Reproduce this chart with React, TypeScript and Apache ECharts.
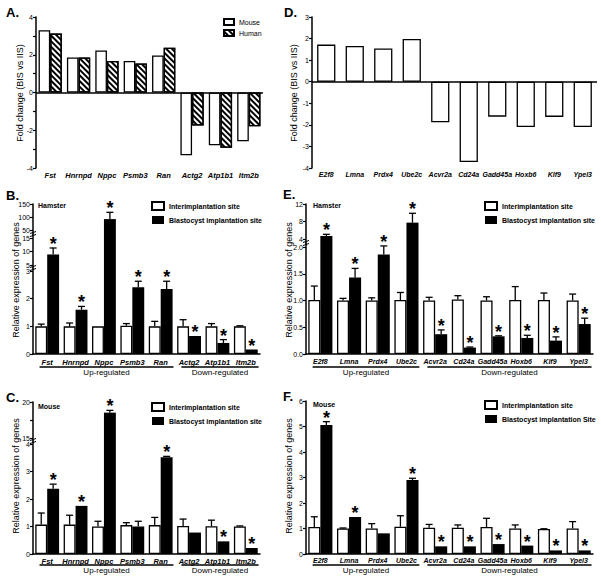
import React, { useEffect, useRef } from 'react';
import * as echarts from 'echarts';

// ---------- data ----------
const genesBC = ['Fst', 'Hnrnpd', 'Nppc', 'Psmb3', 'Ran', 'Actg2', 'Atp1b1', 'Itm2b'];
const genesEF = ['E2f8', 'Lmna', 'Prdx4', 'Ube2c', 'Acvr2a', 'Cd24a', 'Gadd45a', 'Hoxb6', 'Klf9', 'Ypel3'];
const groupNames = ['Up-regulated', 'Down-regulated'];
const groupStartBC = [0, 5];
const groupEndBC = [4, 7];
const groupStartEF = [0, 4];
const groupEndEF = [3, 9];

// A: fold change (BIS vs IIS)
const aMouse = [3.3, 1.86, 2.23, 1.67, 1.96, -3.33, -2.8, -2.58];
const aHuman = [3.12, 1.86, 1.67, 1.54, 2.37, -1.75, -2.93, -1.79];
// D: fold change (BIS vs IIS)
const dFold = [1.72, 1.66, 1.54, 1.98, -1.88, -3.72, -1.62, -2.1, -1.63, -2.1];

// B: hamster
const bIIS = [1.0, 1.0, 1.0, 1.02, 1.0, 1.0, 1.0, 1.0];
const bIISErr = [0.08, 0.12, 0, 0.08, 0.18, 0.24, 0.1, 0.02];
const bBIS = [8.9, 1.6, 92, 2.41, 2.35, 0.65, 0.4, 0.16];
const bBISErr = [2.4, 0.12, 26, 0.22, 0.28, 0, 0.12, 0];
const bSig = [1, 1, 1, 1, 1, 1, 1, 1];

// C: mouse
const cIIS = [1.07, 1.07, 1.0, 1.05, 1.05, 1.02, 1.01, 1.0];
const cIISErr = [0.42, 0.34, 0.19, 0.09, 0.28, 0.25, 0.22, 0.02];
const cBIS = [2.37, 1.75, 18.52, 1.0, 3.52, 0.78, 0.46, 0.22];
const cBISErr = [0.17, 0, 0.32, 0.19, 0.03, 0, 0, 0];
const cSig = [1, 1, 1, 0, 1, 0, 1, 1];

// E: hamster
const eIIS = [1.01, 1.0, 1.0, 1.01, 1.0, 1.02, 1.0, 1.01, 1.01, 1.0];
const eIISErr = [0.26, 0.04, 0.05, 0.14, 0.06, 0.07, 0.07, 0.25, 0.13, 0.12];
const eBIS = [4.69, 1.43, 1.86, 7.74, 0.37, 0.12, 0.33, 0.3, 0.25, 0.56];
const eBISErr = [0.38, 0.17, 0.16, 2.14, 0.08, 0.01, 0.01, 0.05, 0.07, 0.11];
const eSig = [1, 1, 1, 1, 1, 1, 1, 1, 1, 1];

// F: mouse
const fIIS = [1.06, 1.0, 1.0, 1.07, 1.03, 1.03, 1.06, 1.0, 0.98, 1.0];
const fIISErr = [0.4, 0.02, 0.19, 0.43, 0.13, 0.11, 0.34, 0.14, 0.01, 0.27];
const fBIS = [5.06, 1.45, 0.81, 2.9, 0.3, 0.3, 0.39, 0.33, 0.14, 0.14];
const fBISErr = [0.13, 0, 0, 0.07, 0, 0, 0, 0, 0, 0];
const fSig = [1, 1, 0, 1, 1, 1, 1, 1, 1, 1];

// ---------- style ----------
const FONT = '"Liberation Sans", Arial, Helvetica, sans-serif';
const INK = '#000';
const axisLine = { show: true, onZero: false, lineStyle: { color: INK, width: 1.5 } };
const tickLabel = { fontSize: 7, color: INK, fontFamily: FONT, margin: 3 };
const hatch = {
  symbol: 'rect',
  symbolSize: 1,
  dashArrayX: [1, 0],
  dashArrayY: [1.2, 1.8],
  rotation: Math.PI / 4,
  color: INK,
};

function catLabel(margin: number, size: number) {
  return {
    fontSize: size,
    fontStyle: 'italic',
    fontWeight: 'bold',
    color: INK,
    fontFamily: FONT,
    margin,
    interval: 0,
  };
}

type Ctx = { grid: any[]; xAxis: any[]; yAxis: any[]; series: any[]; legend: any[]; graphic: any[] };

function addFoldPanel(ctx: Ctx, p: any) {
  const gi = ctx.grid.length;
  ctx.grid.push({ left: p.left, top: p.top, width: p.width, height: p.height });
  ctx.xAxis.push({
    gridIndex: gi, type: 'category', data: p.cats,
    axisLine: { show: false }, axisTick: { show: false }, axisLabel: catLabel(3, p.catSize),
  });
  ctx.yAxis.push({
    gridIndex: gi, type: 'value', min: p.min, max: p.max,
    axisLine,
    axisTick: { show: true, customValues: p.ticks, length: 3, lineStyle: { color: INK, width: 1.2 } },
    axisLabel: { ...tickLabel, customValues: p.labels },
    splitLine: { show: false },
  });
  p.bars.forEach((s: any, k: number) => {
    ctx.series.push({
      type: 'bar', name: s.name, xAxisIndex: gi, yAxisIndex: gi, data: s.data,
      barGap: '0%', barCategoryGap: p.gap,
      itemStyle: { color: '#fff', borderColor: INK, borderWidth: 1.3, ...(s.hatch ? { decal: hatch } : {}) },
      ...(k === 0
        ? {
            markLine: {
              silent: true, symbol: 'none', label: { show: false },
              lineStyle: { color: INK, width: 1.5, type: 'solid' },
              data: [{ yAxis: 0 }],
            },
          }
        : {}),
    });
  });
}

function addExprPanel(ctx: Ctx, p: any) {
  const segs = p.segs;
  const n = segs.length;
  const gapFrac = parseFloat(p.gap) / 100;
  segs.forEach((s: any, i: number) => {
    const scale = (s.yLo - s.yHi) / (s.hi - s.lo);
    const bottom = i === 0 ? s.yLo : Math.round((s.yLo + segs[i - 1].yHi) / 2);
    const top = i === n - 1 ? s.yHi : Math.round((s.yHi + segs[i + 1].yLo) / 2);
    const min = s.lo - (bottom - s.yLo) / scale;
    const max = s.hi + (s.yHi - top) / scale;
    const gi = ctx.grid.length;
    ctx.grid.push({ left: p.left, width: p.width, top, height: bottom - top });
    ctx.xAxis.push({
      gridIndex: gi, type: 'category', data: p.cats, show: i === 0,
      axisLine, axisTick: { show: false }, axisLabel: catLabel(p.labelMargin, p.catSize),
    });
    ctx.yAxis.push({
      gridIndex: gi, type: 'value', min, max,
      axisLine,
      axisTick: { show: true, customValues: s.ticks, length: 3, lineStyle: { color: INK, width: 1.2 } },
      axisLabel: { ...tickLabel, customValues: s.labels, formatter: s.fmt || ((v: number) => String(v)) },
      splitLine: { show: false },
    });
    ctx.series.push({
      type: 'bar', name: p.names[0], xAxisIndex: gi, yAxisIndex: gi, data: p.iis,
      barGap: '0%', barCategoryGap: p.gap, clip: true,
      itemStyle: { color: '#fff', borderColor: INK, borderWidth: 1.3 },
    });
    ctx.series.push({
      type: 'bar', name: p.names[1], xAxisIndex: gi, yAxisIndex: gi, data: p.bis,
      barGap: '0%', barCategoryGap: p.gap, clip: true,
      itemStyle: { color: INK },
    });
    const errData: number[][] = [];
    p.cats.forEach((_: string, k: number) => {
      errData.push([k, p.iis[k], p.iis[k] + p.iisErr[k], 0, 0]);
      errData.push([k, p.bis[k], p.bis[k] + p.bisErr[k], p.sig[k], 1]);
    });
    ctx.series.push({
      type: 'custom', name: 'err' + gi, xAxisIndex: gi, yAxisIndex: gi, data: errData,
      encode: { x: 0, y: 1 }, silent: true, z: 5,
      renderItem: (params: any, api: any) => {
        const k = api.value(0), v = api.value(1), topV = api.value(2), sig = api.value(3), side = api.value(4);
        const cw = api.size([1, 0])[0];
        const bw = (cw * (1 - gapFrac)) / 2;
        const cx = api.coord([k, 0])[0] + (side ? bw / 2 : -bw / 2);
        const inSeg = (x: number) => x >= min && x <= max;
        const children: any[] = [];
        let tipY: number | null = null;
        if (topV > v) {
          if (inSeg(topV)) {
            const y1 = api.coord([k, Math.max(v, min)])[1];
            const y2 = api.coord([k, topV])[1];
            const capW = 7;
            children.push({ type: 'line', shape: { x1: cx, y1, x2: cx, y2 }, style: { stroke: INK, lineWidth: 1.3 } });
            children.push({ type: 'line', shape: { x1: cx - capW / 2, y1: y2, x2: cx + capW / 2, y2: y2 }, style: { stroke: INK, lineWidth: 1.3 } });
            tipY = y2;
          }
        } else if (inSeg(v)) {
          tipY = api.coord([k, v])[1];
        }
        if (sig && tipY !== null) {
          children.push({
            type: 'text', x: cx, y: tipY - 4,
            style: {
              text: '*', fill: INK, font: `bold 18px ${FONT}`, lineHeight: 6,
              align: 'center', verticalAlign: 'middle',
            },
          });
        }
        return { type: 'group', children };
      },
    });
    if (i === 0) {
      const gData = p.gStart.map((st: number, g: number) => [st, p.gEnd[g], g]);
      ctx.series.push({
        type: 'custom', name: 'grp' + gi, xAxisIndex: gi, yAxisIndex: gi, data: gData,
        encode: { x: 0, y: 1 }, silent: true,
        renderItem: (params: any, api: any) => {
          const st = api.value(0), en = api.value(1), g = api.value(2);
          const cw = api.size([1, 0])[0];
          const x1 = api.coord([st, 0])[0] - 0.27 * cw;
          const x2 = api.coord([en, 0])[0] + 0.45 * cw;
          const yA = params.coordSys.y + params.coordSys.height;
          return {
            type: 'group',
            children: [
              { type: 'line', shape: { x1, y1: yA + p.lineOff, x2, y2: yA + p.lineOff }, style: { stroke: INK, lineWidth: 1.3 } },
              {
                type: 'text', x: (x1 + x2) / 2, y: yA + p.textOff,
                style: { text: groupNames[g], fill: INK, font: `8px ${FONT}`, align: 'center', verticalAlign: 'middle' },
              },
            ],
          };
        },
      });
    }
    // axis-break mark at the boundary below this segment
    if (i > 0) {
      const x = p.left;
      const y = bottom;
      ctx.graphic.push({
        type: 'group', silent: true, z: 100,
        children: [
          { type: 'rect', shape: { x: x - 2, y: y - 1.5, width: 4, height: 3 }, style: { fill: '#fff' } },
          { type: 'line', shape: { x1: x - 3, y1: y - 0.5, x2: x + 3, y2: y - 2.5 }, style: { stroke: INK, lineWidth: 1 } },
          { type: 'line', shape: { x1: x - 3, y1: y + 2.5, x2: x + 3, y2: y + 0.5 }, style: { stroke: INK, lineWidth: 1 } },
        ],
      });
    }
  });
  ctx.legend.push({
    left: p.legendLeft, top: p.legendTop, orient: 'vertical', icon: 'rect',
    itemWidth: 12, itemHeight: 8, itemGap: 5, padding: 0, selectedMode: false,
    data: p.names,
    textStyle: { fontSize: 7, fontWeight: 'bold', color: INK, fontFamily: FONT },
  });
  ctx.graphic.push({
    type: 'text', left: p.tagX, top: p.tagY,
    style: { text: p.tag, fill: INK, font: `bold 7px ${FONT}` },
  });
}

function addText(ctx: Ctx, x: number, y: number, text: string, font: string, rotate = false) {
  ctx.graphic.push({
    type: 'text', x, y, rotation: rotate ? Math.PI / 2 : 0,
    style: { text, fill: INK, font, align: rotate ? 'center' : 'left', verticalAlign: 'middle' },
  });
}

function buildOption() {
  const ctx: Ctx = { grid: [], xAxis: [], yAxis: [], series: [], legend: [], graphic: [] };
  const siteNames = ['Interimplantation site', 'Blastocyst implantation site'];

  addFoldPanel(ctx, {
    left: 36, top: 17, width: 227, height: 151, cats: genesBC, gap: '18%', catSize: 7.5,
    min: -4, max: 4, ticks: [-4, -3, -2, -1, 0, 1, 2, 3, 4], labels: [-4, -2, 0, 2, 4],
    bars: [{ name: 'Mouse', data: aMouse }, { name: 'Human', data: aHuman, hatch: true }],
  });
  ctx.legend.push({
    left: 223, top: 18, orient: 'vertical', icon: 'rect',
    itemWidth: 10, itemHeight: 6, itemGap: 3, padding: 0, selectedMode: false,
    data: ['Mouse', 'Human'],
    textStyle: { fontSize: 7, color: INK, fontFamily: FONT },
  });
  addFoldPanel(ctx, {
    left: 312, top: 17, width: 285, height: 151, cats: genesEF, gap: '36%', catSize: 7,
    min: -4, max: 3, ticks: [-4, -3, -2, -1, 0, 1, 2, 3], labels: [-4, -3, -2, -1, 0, 1, 2, 3],
    bars: [{ name: 'Fold change', data: dFold }],
  });

  addExprPanel(ctx, {
    left: 33, width: 227, cats: genesBC, gap: '16%', names: siteNames, catSize: 7.5,
    iis: bIIS, iisErr: bIISErr, bis: bBIS, bisErr: bBISErr, sig: bSig,
    gStart: groupStartBC, gEnd: groupEndBC, labelMargin: 4, lineOff: 13, textOff: 18.5,
    legendLeft: 151, legendTop: 201, tag: 'Hamster', tagX: 38, tagY: 202,
    segs: [
      { lo: 0, hi: 3, yLo: 354, yHi: 271, ticks: [0, 1, 2, 3], labels: [0, 1, 2, 3] },
      { lo: 5, hi: 15, yLo: 265, yHi: 238, ticks: [5, 10, 15], labels: [5, 10, 15] },
      { lo: 50, hi: 150, yLo: 230, yHi: 204, ticks: [50, 100, 150], labels: [50, 100, 150] },
    ],
  });
  addExprPanel(ctx, {
    left: 33, width: 227, cats: genesBC, gap: '16%', names: siteNames, catSize: 7.5,
    iis: cIIS, iisErr: cIISErr, bis: cBIS, bisErr: cBISErr, sig: cSig,
    gStart: groupStartBC, gEnd: groupEndBC, labelMargin: 3, lineOff: 11, textOff: 16,
    legendLeft: 151, legendTop: 402, tag: 'Mouse', tagX: 38, tagY: 403,
    segs: [
      { lo: 0, hi: 4, yLo: 554, yHi: 444, ticks: [0, 1, 2, 3, 4], labels: [0, 1, 2, 3, 4] },
      { lo: 15, hi: 20, yLo: 438, yHi: 402, ticks: [15, 17.5, 20], labels: [15, 20] },
    ],
  });
  addExprPanel(ctx, {
    left: 306, width: 287, cats: genesEF, gap: '16%', names: siteNames, catSize: 7,
    iis: eIIS, iisErr: eIISErr, bis: eBIS, bisErr: eBISErr, sig: eSig,
    gStart: groupStartEF, gEnd: groupEndEF, labelMargin: 4, lineOff: 13, textOff: 18.5,
    legendLeft: 484, legendTop: 201, tag: 'Hamster', tagX: 313, tagY: 202,
    segs: [
      {
        lo: 0, hi: 2, yLo: 354, yHi: 247, ticks: [0, 0.5, 1, 1.5, 2], labels: [0, 0.5, 1, 1.5, 2],
        fmt: (v: number) => v.toFixed(1),
      },
      { lo: 4, hi: 12, yLo: 239, yHi: 204, ticks: [4, 8, 12], labels: [4, 8, 12] },
    ],
  });
  addExprPanel(ctx, {
    left: 306, width: 287, cats: genesEF, gap: '16%', catSize: 7,
    names: ['Interimplantation site', 'Blastocyst implantation Site'],
    iis: fIIS, iisErr: fIISErr, bis: fBIS, bisErr: fBISErr, sig: fSig,
    gStart: groupStartEF, gEnd: groupEndEF, labelMargin: 3, lineOff: 11, textOff: 16,
    legendLeft: 484, legendTop: 400, tag: 'Mouse', tagX: 313, tagY: 401,
    segs: [{ lo: 0, hi: 6, yLo: 554, yHi: 401, ticks: [0, 1, 2, 3, 4, 5, 6], labels: [0, 1, 2, 3, 4, 5, 6] }],
  });

  const letterFont = `bold 13px ${FONT}`;
  addText(ctx, 6, 12, 'A.', letterFont);
  addText(ctx, 284, 12, 'D.', letterFont);
  addText(ctx, 6, 195, 'B.', letterFont);
  addText(ctx, 283, 194, 'E.', letterFont);
  addText(ctx, 6, 397, 'C.', letterFont);
  addText(ctx, 283, 396, 'F.', letterFont);

  const titleFont = `9px ${FONT}`;
  addText(ctx, 20, 93, 'Fold change (BIS vs IIS)', titleFont, true);
  addText(ctx, 294, 93, 'Fold change (BIS vs IIS)', titleFont, true);
  addText(ctx, 16, 280, 'Relative expression of genes', titleFont, true);
  addText(ctx, 289, 280, 'Relative expression of genes', titleFont, true);
  addText(ctx, 16, 476, 'Relative expression of genes', titleFont, true);
  addText(ctx, 289, 476, 'Relative expression of genes', titleFont, true);

  return {
    animation: false,
    backgroundColor: '#fff',
    textStyle: { fontFamily: FONT },
    grid: ctx.grid,
    xAxis: ctx.xAxis,
    yAxis: ctx.yAxis,
    legend: ctx.legend,
    series: ctx.series,
    graphic: ctx.graphic,
  };
}

export default function App() {
  const ref = useRef<HTMLDivElement>(null);
  useEffect(() => {
    const chart = echarts.init(ref.current!, null, { renderer: 'svg' });
    chart.setOption(buildOption() as any);
    return () => chart.dispose();
  }, []);
  return (
    <div
      ref={ref}
      style={{ position: 'absolute', left: 0, top: 0, width: 601, height: 580, background: '#fff' }}
    />
  );
}
